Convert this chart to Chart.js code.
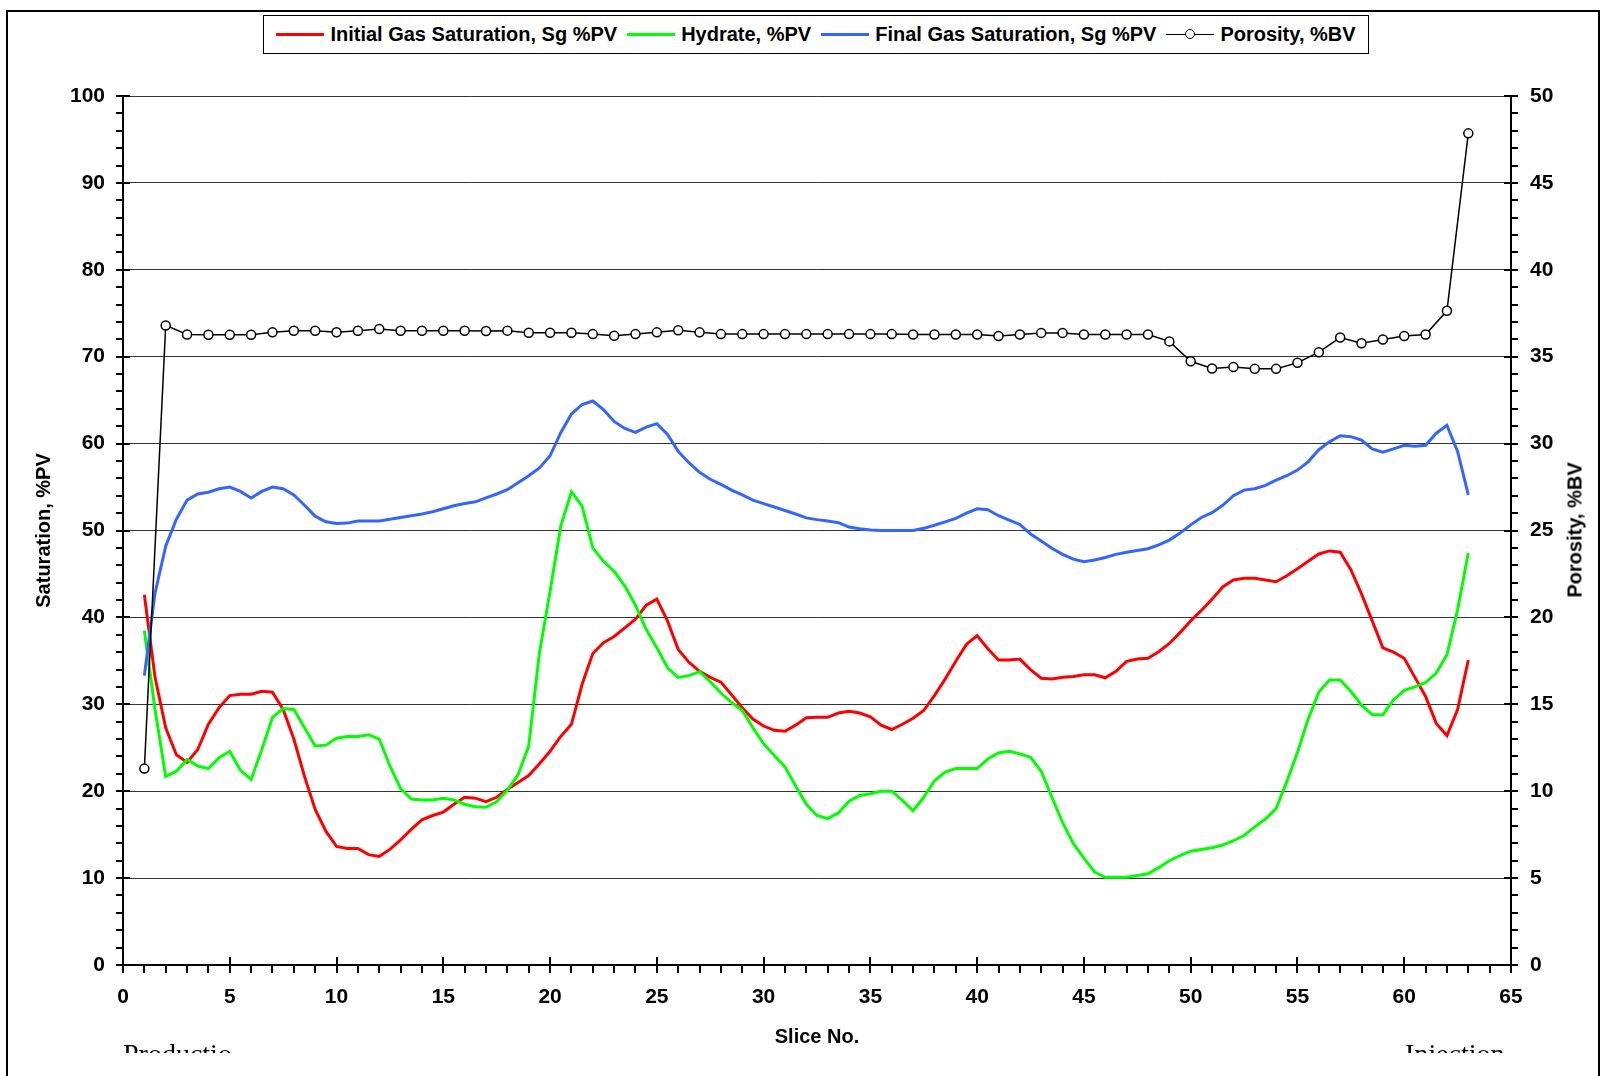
<!DOCTYPE html>
<html>
<head>
<meta charset="utf-8">
<title>Gas saturation, hydrate and porosity by slice</title>
<script src="https://cdn.jsdelivr.net/npm/chart.js@4.4.1/dist/chart.umd.min.js"></script>
<style>
  html, body { margin: 0; padding: 0; background: #fff; }
  #wrap { position: relative; width: 1602px; height: 1076px; overflow: hidden; font-family: "Liberation Sans", Arial, sans-serif; }
  #chart { position: absolute; left: 0; top: 0; }
  #frame { position: absolute; left: 6px; top: 10px; width: 1594px; height: 1066px; box-sizing: border-box;
           border: 2px solid #000; border-bottom: none; pointer-events: none; }
  #legend { position: absolute; left: 263px; top: 15px; width: 1106px; height: 39px; box-sizing: border-box;
            border: 1px solid #000; background: #fff; display: flex; align-items: center; justify-content: center;
            font-weight: bold; font-size: 20px; color: #000; white-space: nowrap; }
  #legend .item { display: flex; align-items: center; margin-right: 10px; }
  #legend .item:last-child { margin-right: 0; }
  #legend .swatch { position: relative; width: 48px; height: 0; margin-right: 6px; border-top: 3px solid; }
  #legend .swatch.thin { border-top-width: 1.5px; }
  #legend .dot { position: absolute; left: 19px; top: -6px; width: 8px; height: 8px; border: 1.5px solid #000;
                 border-radius: 50%; background: #fff; }
  #rightTitle { position: absolute; left: 1575px; top: 530px; transform: translate(-50%, -50%) rotate(-90deg);
                font-weight: bold; font-size: 20px; color: #000; white-space: nowrap; }
  #clip { position: absolute; left: 0; top: 1030px; width: 1602px; height: 23px; overflow: hidden; }
  #clip span { position: absolute; top: 10px; font-family: "Liberation Serif", "Times New Roman", serif;
               font-size: 28px; line-height: 28px; color: #000; white-space: nowrap; }
</style>
</head>
<body>
<div id="wrap">
  <canvas id="chart" width="1602" height="1076"></canvas>
  <div id="legend"></div>
  <div id="rightTitle">Porosity, %BV</div>
  <div id="clip">
    <span style="left:123px">Productio</span>
    <span style="left:1405px">Injection</span>
  </div>
  <div id="frame"></div>
</div>
<script>
// saturation curves are logged every half slice, porosity once per slice
const halfSlices = Array.from({ length: 125 }, (_, i) => 1 + i / 2);
const sliceNo = Array.from({ length: 63 }, (_, i) => i + 1);

const initialGas = [
  42.6, 33.1, 27.3, 24.2, 23.3, 24.8, 27.7, 29.6, 31.0, 31.15,
  31.15, 31.5, 31.4, 29.4, 26.0, 21.7, 17.9, 15.4, 13.65, 13.4,
  13.4, 12.7, 12.5, 13.3, 14.4, 15.6, 16.7, 17.2, 17.6, 18.5,
  19.3, 19.2, 18.8, 19.3, 20.2, 21.0, 21.8, 23.15, 24.6, 26.3,
  27.7, 32.3, 35.85, 37.1, 37.8, 38.8, 39.8, 41.4, 42.1, 39.6,
  36.3, 34.85, 33.8, 33.1, 32.55, 31.1, 29.6, 28.3, 27.5, 27.0,
  26.9, 27.6, 28.45, 28.5, 28.5, 29.0, 29.2, 29.0, 28.55, 27.6,
  27.1, 27.7, 28.4, 29.3, 31.0, 32.9, 34.95, 36.9, 37.9, 36.4,
  35.1, 35.1, 35.2, 34.0, 33.0, 32.9, 33.1, 33.2, 33.4, 33.4,
  33.05, 33.8, 34.95, 35.2, 35.3, 36.05, 37.0, 38.25, 39.6, 40.8,
  42.1, 43.5, 44.3, 44.5, 44.5, 44.3, 44.1, 44.8, 45.6, 46.45,
  47.3, 47.65, 47.5, 45.5, 42.7, 39.6, 36.5, 36.0, 35.3, 33.1,
  30.9, 27.8, 26.4, 29.4, 35.1
];

const hydrate = [
  38.5, 29.4, 21.7, 22.3, 23.65, 22.9, 22.6, 23.85, 24.6, 22.4,
  21.35, 24.8, 28.5, 29.5, 29.4, 27.3, 25.2, 25.3, 26.1, 26.3,
  26.3, 26.5, 26.0, 22.9, 20.3, 19.1, 19.0, 19.0, 19.2, 19.0,
  18.5, 18.2, 18.15, 18.8, 20.1, 21.9, 25.2, 35.9, 43.0, 50.5,
  54.45, 52.8, 48.0, 46.45, 45.3, 43.6, 41.4, 38.6, 36.5, 34.2,
  33.1, 33.3, 33.75, 32.6, 31.3, 30.2, 29.3, 27.3, 25.45, 24.1,
  22.8, 20.6, 18.5, 17.2, 16.85, 17.5, 18.85, 19.5, 19.7, 20.0,
  20.0, 18.95, 17.75, 19.3, 21.2, 22.2, 22.6, 22.6, 22.6, 23.7,
  24.4, 24.6, 24.3, 23.9, 22.3, 19.3, 16.4, 14.0, 12.3, 10.7,
  10.1, 10.1, 10.1, 10.3, 10.5, 11.2, 12.0, 12.6, 13.1, 13.3,
  13.5, 13.8, 14.3, 14.9, 15.9, 16.8, 18.0, 21.1, 24.45, 28.3,
  31.4, 32.8, 32.8, 31.5, 29.9, 28.8, 28.8, 30.5, 31.6, 32.0,
  32.5, 33.6, 35.7, 40.9, 47.4
];

const finalGas = [
  33.3, 42.8, 48.2, 51.3, 53.5, 54.2, 54.4, 54.8, 55.0, 54.5,
  53.75, 54.5, 55.0, 54.8, 54.1, 52.9, 51.65, 51.0, 50.8, 50.85,
  51.1, 51.1, 51.1, 51.3, 51.5, 51.7, 51.9, 52.15, 52.5, 52.85,
  53.1, 53.3, 53.75, 54.2, 54.7, 55.5, 56.3, 57.2, 58.6, 61.25,
  63.4, 64.5, 64.9, 63.9, 62.55, 61.75, 61.3, 61.9, 62.3, 61.05,
  59.1, 57.8, 56.7, 55.9, 55.3, 54.65, 54.1, 53.5, 53.1, 52.7,
  52.3, 51.9, 51.45, 51.25, 51.1, 50.9, 50.4, 50.2, 50.05, 50.0,
  50.0, 50.0, 50.0, 50.25, 50.6, 51.0, 51.4, 52.0, 52.5, 52.4,
  51.7, 51.2, 50.7, 49.6, 48.8, 47.95, 47.25, 46.7, 46.4, 46.6,
  46.9, 47.25, 47.5, 47.7, 47.9, 48.35, 48.9, 49.7, 50.65, 51.5,
  52.05, 52.9, 54.0, 54.65, 54.8, 55.2, 55.8, 56.3, 56.95, 57.9,
  59.3, 60.2, 60.9, 60.8, 60.4, 59.4, 59.0, 59.4, 59.8, 59.7,
  59.8, 61.2, 62.1, 59.1, 54.1
];

const porosity = [
  11.3, 36.8, 36.28, 36.26, 36.26, 36.26, 36.4, 36.49, 36.49, 36.41,
  36.49, 36.59, 36.49, 36.49, 36.49, 36.49, 36.48, 36.5, 36.38, 36.38,
  36.38, 36.3, 36.21, 36.3, 36.4, 36.52, 36.4, 36.3, 36.3, 36.3,
  36.3, 36.3, 36.3, 36.3, 36.3, 36.3, 36.28, 36.28, 36.28, 36.28,
  36.19, 36.28, 36.37, 36.37, 36.28, 36.28, 36.28, 36.28, 35.88, 34.74,
  34.32, 34.41, 34.3, 34.3, 34.65, 35.26, 36.1, 35.77, 35.99, 36.19,
  36.28, 37.64, 47.85
];

const toPoints = (xs, ys) => xs.map((x, i) => ({ x: x, y: ys[i] }));

Chart.defaults.font.family = '"Liberation Sans", Arial, sans-serif';
Chart.defaults.font.weight = 'bold';
Chart.defaults.color = '#000';

const tickFont = { size: 21, weight: 'bold' };
const titleFont = { size: 20, weight: 'bold' };

// Excel-style tick marks: majors cross the axis, minors sit outside
const tickMarks = {
  id: 'tickMarks',
  afterDraw(chart) {
    const { ctx, scales: { x, y, y1 } } = chart;
    ctx.save();
    ctx.strokeStyle = '#000';
    ctx.lineWidth = 2;
    ctx.beginPath();
    for (let v = 0; v <= 100; v += 2) {
      const py = Math.round(y.getPixelForValue(v));
      ctx.moveTo(x.left - 7, py);
      ctx.lineTo(v % 10 === 0 ? x.left + 7 : x.left, py);
    }
    for (let v = 0; v <= 50; v += 1) {
      const py = Math.round(y1.getPixelForValue(v));
      ctx.moveTo(v % 5 === 0 ? x.right - 7 : x.right, py);
      ctx.lineTo(x.right + 7, py);
    }
    for (let v = 0; v <= 65; v += 1) {
      const px = Math.round(x.getPixelForValue(v));
      ctx.moveTo(px, v % 5 === 0 ? y.bottom - 8 : y.bottom);
      ctx.lineTo(px, y.bottom + 8);
    }
    ctx.stroke();
    ctx.restore();
  }
};

const chart = new Chart(document.getElementById('chart').getContext('2d'), {
  type: 'line',
  data: {
    datasets: [
      {
        label: 'Initial Gas Saturation, Sg %PV',
        data: toPoints(halfSlices, initialGas),
        borderColor: '#ff0000',
        borderWidth: 3,
        pointRadius: 0,
        yAxisID: 'y',
        order: 3,
      },
      {
        label: 'Hydrate, %PV',
        data: toPoints(halfSlices, hydrate),
        borderColor: '#00ff00',
        borderWidth: 3,
        pointRadius: 0,
        yAxisID: 'y',
        order: 2,
      },
      {
        label: 'Final Gas Saturation, Sg %PV',
        data: toPoints(halfSlices, finalGas),
        borderColor: '#3366ff',
        borderWidth: 3,
        pointRadius: 0,
        yAxisID: 'y',
        order: 1,
      },
      {
        label: 'Porosity, %BV',
        data: toPoints(sliceNo, porosity),
        borderColor: '#000000',
        borderWidth: 1.5,
        pointRadius: 4.5,
        pointBackgroundColor: '#ffffff',
        pointBorderColor: '#000000',
        pointBorderWidth: 1.5,
        yAxisID: 'y1',
        order: 0,
      },
    ],
  },
  options: {
    responsive: false,
    animation: false,
    devicePixelRatio: 1,
    layout: { padding: { left: 20, right: 0, top: 96, bottom: 0 } },
    plugins: {
      legend: { display: false },
      tooltip: { enabled: false },
    },
    scales: {
      x: {
        type: 'linear',
        min: 0,
        max: 65,
        ticks: { stepSize: 5, padding: 20, font: tickFont, color: '#000' },
        grid: { display: false, drawTicks: false },
        border: { display: true, color: '#000', width: 2 },
        title: { display: true, text: 'Slice No.', font: titleFont, color: '#000', padding: { top: 0, bottom: 27 } },
        afterFit: (s) => { s.height = 111; },
      },
      y: {
        position: 'left',
        min: 0,
        max: 100,
        ticks: { stepSize: 10, padding: 18, font: tickFont, color: '#000' },
        grid: { color: '#333', lineWidth: 1, drawTicks: false },
        border: { display: true, color: '#000', width: 2 },
        title: { display: true, text: 'Saturation, %PV', font: titleFont, color: '#000', padding: { top: 12, bottom: 0 } },
        afterFit: (s) => { s.width = 103; },
      },
      y1: {
        position: 'right',
        min: 0,
        max: 50,
        ticks: { stepSize: 5, padding: 19, font: tickFont, color: '#000' },
        grid: { display: false, drawTicks: false },
        border: { display: true, color: '#000', width: 2 },
        afterFit: (s) => { s.width = 91; },
      },
    },
  },
  plugins: [tickMarks],
});

// boxed legend with line samples, built from the datasets
const legendBox = document.getElementById('legend');
chart.data.datasets.forEach((ds) => {
  const item = document.createElement('span');
  item.className = 'item';
  const swatch = document.createElement('span');
  swatch.className = 'swatch';
  swatch.style.borderTopColor = ds.borderColor;
  if (ds.pointRadius > 0) {
    swatch.classList.add('thin');
    const dot = document.createElement('span');
    dot.className = 'dot';
    swatch.appendChild(dot);
  }
  const text = document.createElement('span');
  text.textContent = ds.label;
  item.appendChild(swatch);
  item.appendChild(text);
  legendBox.appendChild(item);
});
</script>
</body>
</html>
